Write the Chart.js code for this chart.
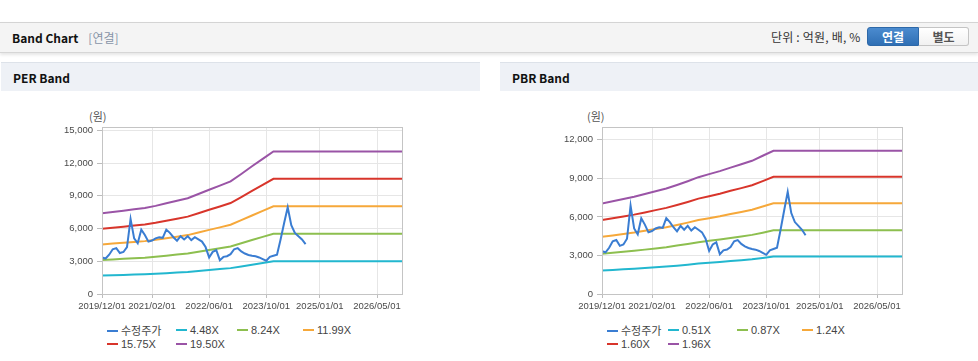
<!DOCTYPE html>
<html>
<head>
<meta charset="utf-8">
<script src="https://cdn.jsdelivr.net/npm/chart.js@4.4.1/dist/chart.umd.min.js"></script>
<style>
body { margin: 0; width: 978px; height: 361px; background: #fff; position: relative; overflow: hidden;
       font-family: "Noto Sans CJK KR", "Liberation Sans", sans-serif; color: #222; }
.topbar { position: absolute; left: 0; top: 22px; width: 978px; height: 29px; background: #f4f4f4;
          border-top: 1px solid #d4d4d4; border-bottom: 1px solid #d6d6d6; box-shadow: 0 2px 3px rgba(0,0,0,.10); }
.title { position: absolute; left: 12px; top: 6px; font-size: 12px; font-weight: bold; line-height: 18px; color: #111; }
.title span { font-weight: normal; color: #8794a8; margin-left: 10px; font-size: 12px; }
.unit { position: absolute; left: 771px; top: 6px; font-size: 12px; line-height: 16px; color: #333; letter-spacing: 0.2px; }
.btn { position: absolute; top: 4px; height: 19px; width: 52px; font-size: 12px; font-weight: bold; line-height: 18px;
       text-align: center; box-sizing: border-box; }
.btn.on { left: 867px; background: linear-gradient(#4b8bcf, #2f6fb4); color: #fff; border: 1px solid #2d68a8; border-radius: 3px 0 0 3px; }
.btn.off { left: 919px; width: 50px; background: linear-gradient(#fff, #f1f1f1); color: #555; border: 1px solid #c4c4c4; border-left: none; border-radius: 0 3px 3px 0; }
.panelhead { position: absolute; top: 62px; height: 28px; background: #eef1f6; border-top: 1px solid #dde2e9; }
.panelhead div { position: absolute; left: 12px; top: 6px; font-size: 12px; font-weight: bold; line-height: 18px; color: #111; }
.box { position: absolute; top: 100px; width: 380px; height: 220px; }
.unitlbl { position: absolute; top: 108px; font-size: 11px; color: #555; line-height: 16px; }
.legend { position: absolute; top: 323px; font-family: "Liberation Sans", sans-serif; font-size: 11px; color: #444; }
.legend .it { position: absolute; white-space: nowrap; line-height: 14px; }
.legend .ln { display: inline-block; width: 11px; height: 2px; vertical-align: middle; margin-right: 3px; position: relative; top: -1px; }
.legend .ko { font-family: "Noto Sans CJK KR", sans-serif; }
</style>
</head>
<body>
<div class="topbar">
  <div class="title">Band Chart<span>[연결]</span></div>
  <div class="unit">단위 : 억원, 배, %</div>
  <div class="btn on">연결</div>
  <div class="btn off">별도</div>
</div>
<div class="panelhead" style="left:1px;width:479px"><div>PER Band</div></div>
<div class="panelhead" style="left:500px;width:478px"><div>PBR Band</div></div>

<div class="unitlbl" style="left:89px">(원)</div>
<div class="unitlbl" style="left:587px">(원)</div>
<div class="box" style="left:40px"><canvas id="per" width="380" height="220"></canvas></div>
<div class="box" style="left:540px"><canvas id="pbr" width="380" height="220"></canvas></div>
<div class="legend" id="perLegend" style="left:0"></div>
<div class="legend" id="pbrLegend" style="left:0"></div>

<script>
// x axis is months counted from 2019/12/01
const tickMonths = [0, 14, 30, 46, 61, 77];
const tickLabels = ['2019/12/01', '2021/02/01', '2022/06/01', '2023/10/01', '2025/01/01', '2026/05/01'];
const lastMonth = 84;

// 수정주가, monthly from 2019/12
const priceValues = [3340, 3250, 3600, 4100, 4200, 3750, 3850, 4300, 6880, 5100,
  4650, 5900, 5400, 4800, 4900, 5100, 5200, 5150, 5900, 5600,
  5200, 4880, 5300, 5000, 5300, 4940, 5200, 5000, 4800, 4300,
  3350, 3860, 4020, 3100, 3400, 3460, 3650, 4100, 4200, 3900,
  3710, 3580, 3500, 3450, 3350, 3200, 3050, 3400, 3500, 3600,
  5000, 6500, 7950, 6300, 5600, 5300, 5000, 4570];

// band lines, quarterly points then flat to the end
const bandMonths = [0, 3, 6, 9, 12, 15, 18, 21, 24, 27, 30, 33, 36, 39, 42, 45, 48, 84];

const perLabels = ['4.48X', '8.24X', '11.99X', '15.75X', '19.50X'];
const per448 = [1698, 1725, 1752, 1783, 1810, 1855, 1908, 1962, 2016, 2106, 2195, 2280, 2370, 2527, 2688, 2845, 3002, 3002];
const per824 = [3123, 3172, 3222, 3280, 3329, 3411, 3510, 3609, 3708, 3873, 4038, 4194, 4359, 4647, 4944, 5232, 5521, 5521];
const per1199 = [4544, 4616, 4688, 4772, 4844, 4964, 5108, 5252, 5396, 5635, 5875, 6103, 6343, 6762, 7194, 7614, 8033, 8033];
const per1575 = [5969, 6064, 6158, 6269, 6363, 6521, 6710, 6899, 7088, 7403, 7718, 8017, 8332, 8883, 9450, 10001, 10553, 10553];
const per1950 = [7391, 7508, 7625, 7761, 7878, 8073, 8307, 8541, 8775, 9165, 9555, 9926, 10316, 10998, 11700, 12383, 13065, 13065];
const perTicks = [0, 3000, 6000, 9000, 12000, 15000];

const pbrLabels = ['0.51X', '0.87X', '1.24X', '1.60X', '1.96X'];
const pbr051 = [1833, 1877, 1923, 1970, 2025, 2081, 2137, 2208, 2285, 2366, 2428, 2489, 2560, 2627, 2698, 2800, 2910, 2910];
const pbr087 = [3128, 3202, 3280, 3360, 3454, 3550, 3645, 3767, 3898, 4037, 4141, 4246, 4367, 4481, 4602, 4776, 4965, 4965];
const pbr124 = [4458, 4563, 4675, 4789, 4923, 5059, 5196, 5369, 5555, 5754, 5902, 6051, 6225, 6386, 6560, 6808, 7060, 7060];
const pbr160 = [5752, 5888, 6032, 6179, 6352, 6528, 6704, 6928, 7168, 7424, 7616, 7808, 8032, 8240, 8464, 8784, 9120, 9120];
const pbr196 = [7046, 7213, 7389, 7570, 7781, 7997, 8212, 8487, 8781, 9094, 9330, 9565, 9839, 10094, 10368, 10760, 11150, 11150];
const pbrTicks = [0, 3000, 6000, 9000, 12000];

const colors = ['#3a7dd2', '#22b7cf', '#8dbf4f', '#f6a83a', '#d8352b', '#9a54a6'];

const framePlugin = {
  id: 'frame',
  afterDraw(chart) {
    const a = chart.chartArea, ctx = chart.ctx;
    ctx.save();
    ctx.strokeStyle = '#c4c4c4';
    ctx.lineWidth = 1;
    ctx.strokeRect(Math.round(a.left) + 0.5, Math.round(a.top) + 0.5, Math.round(a.right - a.left), Math.round(a.bottom - a.top));
    ctx.restore();
  }
};

function pts(xs, ys) {
  return ys.map((y, i) => ({ x: xs[i], y: y }));
}

function makeChart(id, labels, bands, yMax, yTicks) {
  const datasets = [{ label: '수정주가', data: pts(priceValues.map((v, i) => i), priceValues) }];
  bands.forEach((b, i) => datasets.push({ label: labels[i], data: pts(bandMonths, b) }));
  datasets.forEach((d, i) => {
    d.borderColor = colors[i];
    d.backgroundColor = colors[i];
    d.borderWidth = 2;
    d.pointRadius = 0;
    d.tension = 0;
  });
  const tickFont = { family: 'Liberation Sans', size: 9.5 };
  return new Chart(document.getElementById(id), {
    type: 'line',
    data: { datasets: datasets },
    plugins: [framePlugin],
    options: {
      responsive: false,
      animation: false,
      devicePixelRatio: 1,
      layout: { padding: { top: 27, right: 18, left: 0, bottom: 0 } },
      plugins: { legend: { display: false }, tooltip: { enabled: false } },
      scales: {
        x: {
          type: 'linear', min: 0, max: lastMonth,
          afterBuildTicks: s => { s.ticks = tickMonths.map(v => ({ value: v })); },
          afterFit: s => { s.height = 26; },
          ticks: { autoSkip: false, maxRotation: 0, font: tickFont, color: '#4a4a4a', padding: 3,
                   callback: v => tickLabels[tickMonths.indexOf(v)] },
          grid: { color: '#e6e6e6', tickLength: 4, tickColor: '#bdbdbd' },
          border: { color: '#bdbdbd' }
        },
        y: {
          min: 0, max: yMax,
          afterBuildTicks: s => { s.ticks = yTicks.map(v => ({ value: v })); },
          afterFit: s => { s.width = 62; },
          ticks: { font: tickFont, color: '#4a4a4a', padding: 4,
                   callback: v => v.toLocaleString('en-US') },
          grid: { color: '#e6e6e6', tickLength: 5, tickColor: '#bdbdbd' },
          border: { color: '#bdbdbd' }
        }
      }
    }
  });
}

function buildLegend(chart, elId, cols) {
  const el = document.getElementById(elId);
  chart.data.datasets.forEach((d, i) => {
    const row = Math.floor(i / 4), col = i % 4;
    const it = document.createElement('div');
    it.className = 'it';
    it.style.left = cols[col] + 'px';
    it.style.top = (row * 14) + 'px';
    const txt = i === 0 ? '<span class="ko">' + d.label + '</span>' : d.label;
    it.innerHTML = '<span class="ln" style="background:' + d.borderColor + '"></span>' + txt;
    el.appendChild(it);
  });
}

const perChart = makeChart('per', perLabels, [per448, per824, per1199, per1575, per1950], 15300, perTicks);
const pbrChart = makeChart('pbr', pbrLabels, [pbr051, pbr087, pbr124, pbr160, pbr196], 13000, pbrTicks);
buildLegend(perChart, 'perLegend', [107, 176, 237, 303]);
buildLegend(pbrChart, 'pbrLegend', [607, 668, 737, 802]);
</script>
</body>
</html>
